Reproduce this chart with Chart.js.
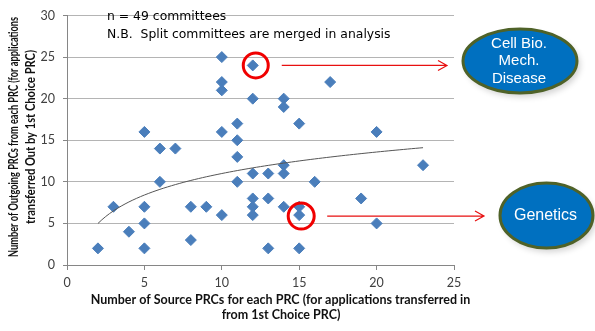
<!DOCTYPE html>
<html>
<head>
<meta charset="utf-8">
<script src="https://cdn.jsdelivr.net/npm/chart.js@4.4.1/dist/chart.umd.min.js"></script>
<style>
  html, body { margin: 0; padding: 0; background: #fff; }
  #wrap { width: 595px; height: 331px; position: relative; }
</style>
</head>
<body>
<div id="wrap"><canvas id="prcScatter" width="595" height="331"></canvas></div>
<script>
  // source PRCs (x) vs outgoing PRCs (y), one entry per committee
  var sourcePRCs   = [2, 3, 4, 5, 5, 5, 5, 6, 6, 7, 8, 8, 9, 10, 10, 10, 10, 10, 11, 11, 11, 11, 12, 12, 12, 12, 12, 12, 13, 13, 13, 14, 14, 14, 14, 14, 15, 15, 15, 15, 16, 17, 19, 20, 20, 23];
  var outgoingPRCs = [2, 7, 4, 16, 7, 5, 2, 14, 10, 14, 7, 3, 7, 25, 22, 21, 16, 6, 17, 15, 13, 10, 24, 20, 11, 8, 7, 6, 11, 8, 2, 20, 19, 12, 11, 7, 17, 7, 6, 2, 10, 22, 8, 16, 5, 12];

  // logarithmic trendline y = a*ln(x) + b, drawn over the x range of the data
  var trendA = 3.73;
  var trendB = 2.41;
  var trendFrom = 2, trendTo = 23;

  var xTicks = [0, 5, 10, 15, 20, 25];
  var yTicks = [0, 5, 10, 15, 20, 25, 30];

  var notes = ['n = 49 committees', 'N.B.  Split committees are merged in analysis'];
  // highlighted committees and where their arrows point
  var callouts = [
    { x: 12, y: 24, lines: ['Cell Bio.', 'Mech.', 'Disease'] },
    { x: 15, y: 6,  lines: ['Genetics'] }
  ];

  var xTitle = ['Number of Source PRCs for each PRC (for applications transferred in', 'from 1st Choice PRC)'];
  var yTitle = ['Number of Outgoing PRCs from each PRC (for applications', 'transferred Out by 1st Choice PRC)'];

  var points = sourcePRCs.map(function (x, i) { return { x: x, y: outgoingPRCs[i] }; });

  var trend = [];
  for (var t = trendFrom; t <= trendTo + 1e-9; t += 0.25) {
    trend.push({ x: t, y: trendA * Math.log(t) + trendB });
  }

  function ellipse(ctx, cx, cy, rx, ry) {
    ctx.beginPath();
    ctx.ellipse(cx, cy, rx, ry, 0, 0, Math.PI * 2);
  }

  function arrow(ctx, x1, y, x2) {
    ctx.beginPath();
    ctx.moveTo(x1, y);
    ctx.lineTo(x2, y);
    ctx.moveTo(x2 - 9, y - 5);
    ctx.lineTo(x2, y);
    ctx.lineTo(x2 - 9, y + 5);
    ctx.stroke();
  }

  var extras = {
    id: 'extras',
    afterDraw: function (chart) {
      var ctx = chart.ctx;
      var xs = chart.scales.x, ys = chart.scales.y;
      ctx.save();

      // notes in the top left of the plot
      ctx.fillStyle = '#000';
      ctx.font = '12.4px "DejaVu Sans"';
      ctx.textAlign = 'left';
      ctx.textBaseline = 'middle';
      ctx.fillText(notes[0], 107, 17);
      ctx.fillText(notes[1], 107, 35);

      // axis titles
      ctx.fillStyle = '#111';
      ctx.font = 'bold 12.5px Lato';
      ctx.textAlign = 'center';
      ctx.fillText(xTitle[0], 280.5, 300, 415);
      ctx.fillText(xTitle[1], 281, 315, 128);

      ctx.save();
      ctx.font = 'bold 13.5px Lato';
      ctx.translate(14, 137);
      ctx.rotate(-Math.PI / 2);
      ctx.fillText(yTitle[0], 0, 0, 240);
      ctx.fillText(yTitle[1], 0, 17, 174);
      ctx.restore();

      // red circles, arrows and labelled ellipses
      var boxes = [
        { ex: 520, ey: 61, rx: 57, ry: 32, dx: 3, dy: 0, r: 12.5, font: '15px "Liberation Sans"', gap: 17.5 },
        { ex: 546.5, ey: 215.5, rx: 46.5, ry: 32.5, dx: 2, dy: 1, r: 13, font: '16px "Liberation Sans"', gap: 18 }
      ];
      callouts.forEach(function (c, i) {
        var b = boxes[i];
        var px = xs.getPixelForValue(c.x) + b.dx;
        var py = ys.getPixelForValue(c.y) + b.dy;

        ctx.strokeStyle = '#f00000';
        ctx.lineWidth = 3;
        ctx.beginPath();
        ctx.arc(px, py, b.r, 0, Math.PI * 2);
        ctx.stroke();

        ctx.lineWidth = 1.2;
        ctx.strokeStyle = '#e81010';
        arrow(ctx, px + 26, py, b.ex - b.rx - 16);

        ctx.save();
        ctx.shadowColor = 'rgba(0,0,0,0.18)';
        ctx.shadowBlur = 6;
        ctx.shadowOffsetX = 3;
        ctx.shadowOffsetY = 4;
        ellipse(ctx, b.ex, b.ey, b.rx, b.ry);
        ctx.fillStyle = '#0070c0';
        ctx.fill();
        ctx.restore();
        ellipse(ctx, b.ex, b.ey, b.rx, b.ry);
        ctx.lineWidth = 3;
        ctx.strokeStyle = '#4f6228';
        ctx.stroke();

        ctx.fillStyle = '#fff';
        ctx.font = b.font;
        ctx.textAlign = 'center';
        ctx.textBaseline = 'middle';
        var y0 = b.ey - (c.lines.length - 1) * b.gap / 2;
        c.lines.forEach(function (s, k) {
          ctx.fillText(s, b.ex - 1, y0 + k * b.gap);
        });
      });

      ctx.restore();
    }
  };

  var ctx = document.getElementById('prcScatter').getContext('2d');
  var prcChart = new Chart(ctx, {
    type: 'scatter',
    data: {
      datasets: [
        {
          type: 'line',
          label: 'Log trend',
          data: trend,
          borderColor: '#555',
          borderWidth: 1,
          pointRadius: 0,
          tension: 0,
          fill: false,
          order: 0
        },
        {
          label: 'Committees',
          data: points,
          pointStyle: 'rectRot',
          pointRadius: 5.5,
          pointHoverRadius: 5.5,
          backgroundColor: '#4a7ebb',
          borderColor: '#4a7ebb',
          borderWidth: 1,
          order: 1
        }
      ]
    },
    options: {
      responsive: false,
      animation: false,
      events: [],
      layout: { padding: { top: 9, right: 141, left: 0, bottom: 0 } },
      plugins: { legend: { display: false }, tooltip: { enabled: false } },
      scales: {
        x: {
          type: 'linear',
          min: 0,
          max: 25,
          afterFit: function (s) { s.height = 66; },
          afterBuildTicks: function (s) { s.ticks = xTicks.map(function (v) { return { value: v }; }); },
          grid: { drawOnChartArea: false, drawTicks: true, tickLength: 5, color: '#868686' },
          border: { color: '#868686', width: 1 },
          ticks: { padding: 5, color: '#404040', font: { family: 'Lato', size: 12.5 }, maxRotation: 0 }
        },
        y: {
          type: 'linear',
          min: 0,
          max: 30,
          afterFit: function (s) { s.width = 67; },
          afterBuildTicks: function (s) { s.ticks = yTicks.map(function (v) { return { value: v }; }); },
          grid: { color: '#b4b4b4', tickColor: '#868686', tickLength: 4 },
          border: { color: '#868686', width: 1 },
          ticks: { padding: 8, color: '#404040', font: { family: 'Lato', size: 12.5 } }
        }
      }
    },
    plugins: [extras]
  });
</script>
</body>
</html>
